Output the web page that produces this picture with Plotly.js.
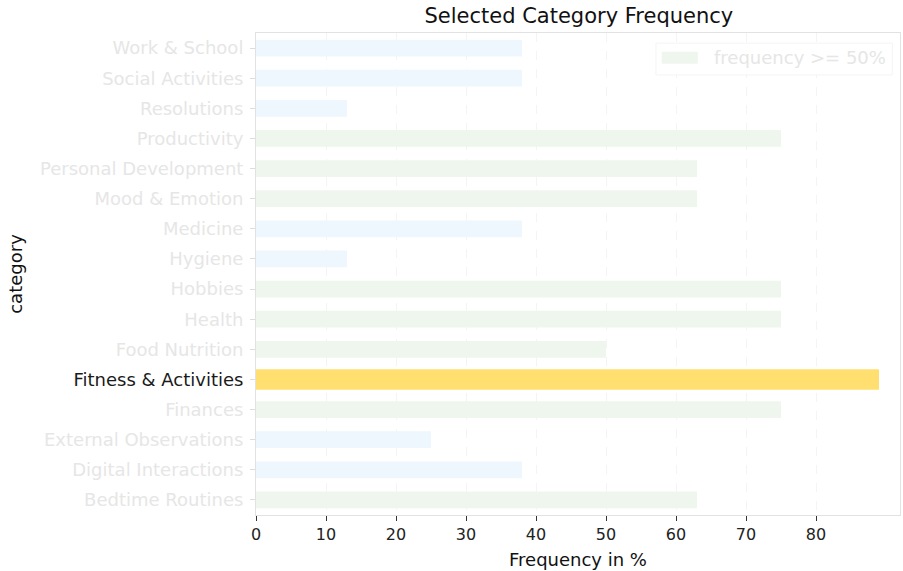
<!DOCTYPE html>
<html>
<head>
<meta charset="utf-8">
<script src="https://cdn.plot.ly/plotly-3.0.1.min.js"></script>
<style>html,body{margin:0;padding:0;background:#fff;}#chart{width:903px;height:571px;}</style>
</head>
<body>
<div id="chart"></div>
<script>
// Categories listed bottom-to-top
const categories = ["Bedtime Routines","Digital Interactions","External Observations","Finances","Fitness & Activities","Food Nutrition","Health","Hobbies","Hygiene","Medicine","Mood & Emotion","Personal Development","Productivity","Resolutions","Social Activities","Work & School"];
const frequency = [63, 38, 25, 75, 89, 50, 75, 75, 13, 38, 63, 63, 75, 13, 38, 38];
const xTicks = [0, 10, 20, 30, 40, 50, 60, 70, 80];
const highlight = "Fitness & Activities";
const threshold = 50;
const legendLabel = "frequency >= 50%";

const lowY=[], lowX=[], highY=[], highX=[], selY=[], selX=[];
categories.forEach((c,i)=>{
  const v = frequency[i];
  if (c === highlight) { selY.push(c); selX.push(v); }
  else if (v >= threshold) { highY.push(c); highX.push(v); }
  else { lowY.push(c); lowX.push(v); }
});

const fadedText = "#e6e6e6";
const blue = '#eef7fd', green = '#eff6ee', yellow = '#ffdf70';
const ticktext = categories.map(c => c === highlight ? '<span style="color:#1a1a1a">'+c+'</span>' : c);

const traces = [
  {type:'bar', orientation:'h', y:lowY, x:lowX, width:0.56, marker:{color:blue}, showlegend:false, hoverinfo:'x+y'},
  {type:'bar', orientation:'h', y:highY, x:highX, width:0.56, marker:{color:green}, name:legendLabel, showlegend:false, hoverinfo:'x+y'},
  {type:'bar', orientation:'h', y:selY, x:selX, width:0.68, marker:{color:yellow}, showlegend:false, hoverinfo:'x+y'}
];

const layout = {
  width:903, height:571,
  margin:{l:256, r:3, t:33, b:56},
  paper_bgcolor:'#fff', plot_bgcolor:'#fff',
  font:{family:'DejaVu Sans, sans-serif', size:16, color:'#222'},
  barmode:'overlay',
  showlegend:false,
  title:{text:'Selected Category Frequency', x:0.641, xanchor:'center', y:0.973, yanchor:'middle', font:{size:21, color:'#111'}},
  xaxis:{
    range:[0, 92], tickvals:xTicks,
    showgrid:true, gridcolor:'#f4f4f4', griddash:'dash', gridwidth:1,
    zeroline:false, showline:true, linecolor:'#e2e2e2', mirror:true,
    ticks:'outside', ticklen:5, tickcolor:'#333', tickfont:{size:16, color:'#222'},
    title:{text:'Frequency in %', font:{size:18, color:'#111'}, standoff:10}
  },
  yaxis:{
    type:'category', categoryorder:'array', categoryarray:categories,
    range:[-0.5, 15.5], tickvals:categories, ticktext:ticktext,
    showgrid:false, zeroline:false, showline:true, linecolor:'#e2e2e2', mirror:true,
    ticks:'outside', ticklen:5, tickcolor:'#dddddd', tickfont:{size:18, color:fadedText},
    ticklabelstandoff:3,
    title:{text:'category', font:{size:18, color:'#111'}, standoff:12}
  },
  shapes:[
    {type:'rect', xref:'paper', yref:'paper', x0:0.621, x1:0.988, y0:0.913, y1:0.979, line:{color:'#f4f4f4', width:1}, fillcolor:'rgba(255,255,255,0.9)', layer:'above'},
    {type:'rect', xref:'paper', yref:'paper', x0:0.630, x1:0.686, y0:0.936, y1:0.961, line:{width:0}, fillcolor:green, layer:'above'}
  ],
  annotations:[
    {xref:'paper', yref:'paper', x:0.708, y:0.949, xanchor:'left', yanchor:'middle', text:legendLabel, showarrow:false, font:{size:18, color:fadedText}}
  ]
};

Plotly.newPlot('chart', traces, layout, {displayModeBar:false, staticPlot:true});
</script>
</body>
</html>
